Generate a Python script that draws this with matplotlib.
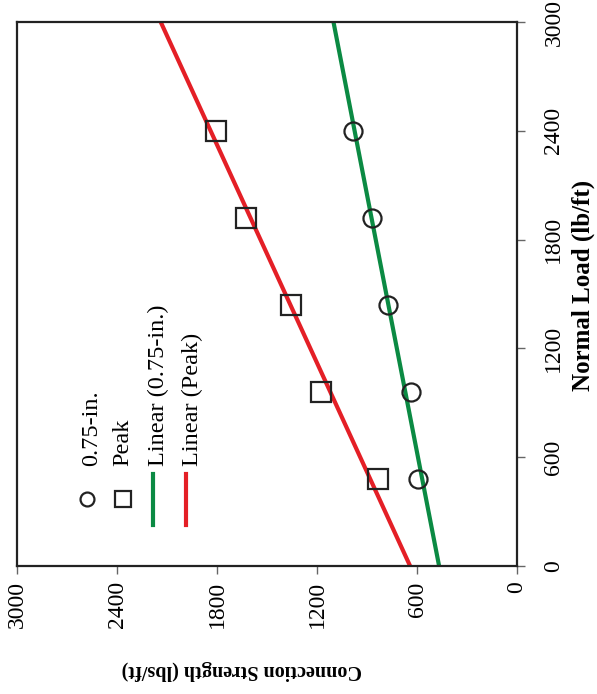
import numpy as np
import matplotlib
matplotlib.use("Agg")
import matplotlib.pyplot as plt

normal_load = [480, 960, 1440, 1920, 2400]          # lb/ft
strength_075 = [594, 636, 774, 870, 984]            # 0.75-in. slip, lbs/ft
strength_peak = [834, 1176, 1356, 1626, 1806]       # peak, lbs/ft
ticks = [0, 600, 1200, 1800, 2400, 3000]
fit_range = [0, 3000]

green = "#0b8a43"
red = "#e41f26"

plt.rcParams["font.family"] = ["Liberation Serif", "DejaVu Serif"]

fig = plt.figure(figsize=(5.97, 6.94), dpi=100)
# page is turned 90 deg: strength runs right->left, normal load bottom->top
ax = fig.add_axes([17/597, 1-566/694, 500/597, 544/694])

# linear fits
x_fit = np.array(fit_range)
p1 = np.polyfit(normal_load, strength_075, 1)
p2 = np.polyfit(normal_load, strength_peak, 1)
ax.plot(np.polyval(p1, x_fit), x_fit, color=green, lw=3, solid_capstyle="butt", zorder=2)
ax.plot(np.polyval(p2, x_fit), x_fit, color=red, lw=3, solid_capstyle="butt", zorder=2)

ax.plot(strength_075, normal_load, "o", ms=13, mfc="none", mec="#222222", mew=1.6, zorder=3)
ax.plot(strength_peak, normal_load, "s", ms=14, mfc="none", mec="#222222", mew=1.6, zorder=3)

ax.set_xlim(3000, 0)
ax.set_ylim(0, 3000)
ax.set_xticks(ticks)
ax.set_yticks(ticks)
ax.yaxis.tick_right()
ax.tick_params(direction="out", length=6, width=1, color="#666666", labelsize=17)
ax.tick_params(axis="x", pad=5, labelrotation=90)
ax.tick_params(axis="y", pad=13, labelrotation=90)
for lab in ax.get_yticklabels():
    lab.set_verticalalignment("center")
for sp in ax.spines.values():
    sp.set_linewidth(1.6)
    sp.set_color("#222222")

# hand-made legend, turned like the rest
tr = ax.transAxes
ax.plot([0.140], [0.123], "o", ms=10, mfc="none", mec="#222222", mew=1.6, transform=tr)
ax.plot([0.212], [0.123], "s", ms=11, mfc="none", mec="#222222", mew=1.6, transform=tr)
ax.plot([0.272, 0.272], [0.075, 0.170], color=green, lw=3, transform=tr)
ax.plot([0.338, 0.338], [0.075, 0.170], color=red, lw=3, transform=tr)
leg_labels = ["0.75-in.", "Peak", "Linear (0.75-in.)", "Linear (Peak)"]
leg_x = [0.150, 0.212, 0.282, 0.350]
for lx, txt in zip(leg_x, leg_labels):
    ax.text(lx, 0.183, txt, rotation=90, ha="center", va="bottom", fontsize=17.5, transform=tr)

fig.text(242/597, 1-670/694, "Connection Strength (lbs/ft)", rotation=180,
         ha="center", va="center", fontsize=14.5, fontweight="bold")
fig.text(583/597, 1-285/694, "Normal Load (lb/ft)", rotation=90,
         ha="center", va="center", fontsize=18, fontweight="bold")

fig.savefig("out.png", dpi=100)
